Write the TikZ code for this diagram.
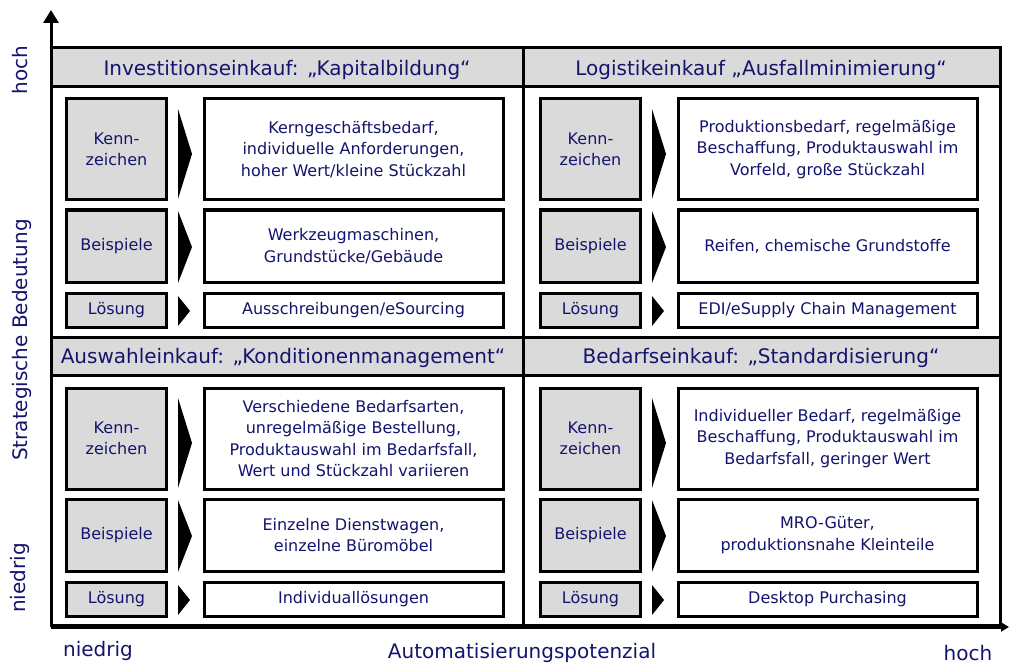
\documentclass[tikz,border=0pt]{standalone}
\usepackage{fontspec}
\setmainfont{DejaVu Sans}
\usetikzlibrary{arrows.meta}
\definecolor{ink}{RGB}{20,20,110}
\definecolor{band}{RGB}{218,218,218}

% one quadrant: prefix, shift, feature text, example text, solution text
\newcommand\quadpanel[5]{%
  \begin{scope}[shift={#2}]
    \node[tagbox, minimum width=100, minimum height=101] (#1-kz) at (116.5,149.5) {Kenn-\\zeichen};
    \node[infobox, minimum width=299, minimum height=101] (#1-kzt) at (353.5,149.5) {#3};
    \node[tagbox, minimum width=100, minimum height=72] (#1-bs) at (116.5,246) {Beispiele};
    \node[infobox, minimum width=299, minimum height=72] (#1-bst) at (353.5,246) {#4};
    \node[tagbox, minimum width=100, minimum height=34] (#1-ls) at (116.5,310) {Lösung};
    \node[infobox, minimum width=299, minimum height=34] (#1-lst) at (353.5,310) {#5};
    \fill (178,109) -- (192,154) -- (178,199) -- cycle;
    \fill (178,211) -- (192,247) -- (178,283) -- cycle;
    \fill (178,296) -- (190,311) -- (178,326) -- cycle;
  \end{scope}}

\begin{document}
\begin{tikzpicture}[x=1pt,y=-1pt,
  rule/.style={line width=3pt},
  tagbox/.style={draw, line width=3pt, fill=band, text=ink, align=center, inner sep=0pt,
    font=\fontsize{16}{21.5}\selectfont},
  infobox/.style={draw, line width=3pt, fill=white, text=ink, align=center, inner sep=0pt,
    font=\fontsize{16}{21.5}\selectfont},
  headtext/.style={text=ink, font=\fontsize{20}{24}\selectfont},
  axislabel/.style={text=ink, font=\fontsize{20}{24}\selectfont}]
\useasboundingbox (0,0) rectangle (1010,666);

% header bands
\fill[band] (51,48) rectangle (1000,87);
\fill[band] (51,337) rectangle (1000,375);

% frame and dividers
\draw[rule] (51,48) rectangle (1000,625);
\draw[rule] (51,87) -- (1000,87);
\draw[rule] (51,337) -- (1000,337);
\draw[rule] (51,375) -- (1000,375);
\draw[rule] (523,48) -- (523,625);

% axes
\coordinate (origin) at (51,627);
\coordinate (ytop) at (51,10);
\coordinate (xend) at (1009,627);
\draw[line width=3pt, -{Triangle[length=13pt,width=15pt]}] (origin) -- (ytop);
\draw[line width=3pt, -{Triangle[length=8pt,width=9pt]}] (origin) -- (xend);

% axis labels
\node[axislabel, rotate=90] (yhigh) at (20,70) {hoch};
\node[axislabel, rotate=90] (ytitle) at (22,340) {Strategische Bedeutung};
\node[axislabel, rotate=90] (ylow) at (20,578) {niedrig};
\node[axislabel] (xlow) at (98,651) {niedrig};
\node[axislabel] (xtitle) at (522,653) {Automatisierungspotenzial};
\node[axislabel] (xhigh) at (968,653) {hoch};

% quadrant titles
\node[headtext] (h1) at (287,70) {Investitionseinkauf: „Kapitalbildung“};
\node[headtext] (h2) at (761,70) {Logistikeinkauf „Ausfallminimierung“};
\node[headtext] (h3) at (283,358) {Auswahleinkauf: „Konditionenmanagement“};
\node[headtext] (h4) at (761,358) {Bedarfseinkauf: „Standardisierung“};

\quadpanel{ul}{(0,0)}
  {Kerngeschäftsbedarf,\\individuelle Anforderungen,\\hoher Wert/kleine Stückzahl}
  {Werkzeugmaschinen,\\Grundstücke/Gebäude}
  {Ausschreibungen/eSourcing}
\quadpanel{ur}{(474,0)}
  {Produktionsbedarf, regelmäßige\\Beschaffung, Produktauswahl im\\Vorfeld, große Stückzahl}
  {Reifen, chemische Grundstoffe}
  {EDI/eSupply Chain Management}
\quadpanel{ll}{(0,289)}
  {Verschiedene Bedarfsarten,\\unregelmäßige Bestellung,\\Produktauswahl im Bedarfsfall,\\Wert und Stückzahl variieren}
  {Einzelne Dienstwagen,\\einzelne Büromöbel}
  {Individuallösungen}
\quadpanel{lr}{(474,289)}
  {Individueller Bedarf, regelmäßige\\Beschaffung, Produktauswahl im\\Bedarfsfall, geringer Wert}
  {MRO-Güter,\\produktionsnahe Kleinteile}
  {Desktop Purchasing}
\end{tikzpicture}
\end{document}
